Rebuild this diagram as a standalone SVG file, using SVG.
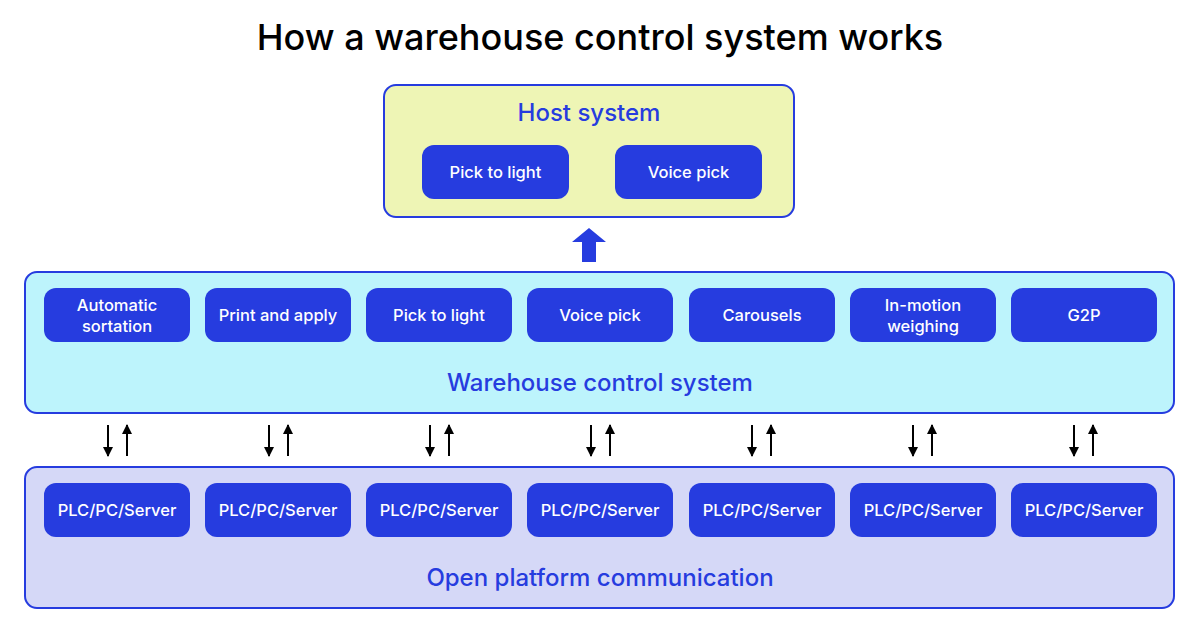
<svg xmlns="http://www.w3.org/2000/svg" width="1200" height="630" viewBox="0 0 1200 630">
<style>
text{font-family:Inter,"Liberation Sans",sans-serif;text-anchor:middle;font-weight:500}
.n{fill:#263cdf}
.nt{fill:#fff;font-size:16.5px}
.lbl{fill:#263cdf;font-size:24px}
.c{stroke:#000;stroke-width:2}
</style>
<defs>
<marker id="ah" viewBox="0 0 10 10" refX="9" refY="5" markerWidth="10" markerHeight="10" markerUnits="userSpaceOnUse" orient="auto"><path d="M0,0L10,5L0,10z" fill="#000"/></marker>
</defs>
<rect width="1200" height="630" fill="#fff"/>
<text x="600" y="50" font-size="36" fill="#000">How a warehouse control system works</text>
<g id="host">
<rect x="384" y="85" width="410" height="132" rx="12" fill="#eef5b5" stroke="#263cdf" stroke-width="2"/>
<text class="lbl" x="589" y="121">Host system</text>
</g>
<g id="host-ptl"><rect class="n" x="422" y="145" width="147" height="54" rx="12"/><text class="nt" x="495.5" y="178">Pick to light</text></g>
<g id="host-vp"><rect class="n" x="615" y="145" width="147" height="54" rx="12"/><text class="nt" x="688.5" y="178">Voice pick</text></g>
<g id="wcs">
<rect x="25" y="272" width="1149" height="141" rx="12" fill="#bdf4fc" stroke="#263cdf" stroke-width="2"/>
<text class="lbl" x="600" y="391">Warehouse control system</text>
</g>
<g id="w1"><rect class="n" x="44" y="288" width="146" height="54" rx="12"/><text class="nt" x="117" y="311">Automatic</text><text class="nt" x="117" y="332">sortation</text></g>
<g id="w2"><rect class="n" x="205" y="288" width="146" height="54" rx="12"/><text class="nt" x="278" y="321">Print and apply</text></g>
<g id="w3"><rect class="n" x="366" y="288" width="146" height="54" rx="12"/><text class="nt" x="439" y="321">Pick to light</text></g>
<g id="w4"><rect class="n" x="527" y="288" width="146" height="54" rx="12"/><text class="nt" x="600" y="321">Voice pick</text></g>
<g id="w5"><rect class="n" x="689" y="288" width="146" height="54" rx="12"/><text class="nt" x="762" y="321">Carousels</text></g>
<g id="w6"><rect class="n" x="850" y="288" width="146" height="54" rx="12"/><text class="nt" x="923" y="311">In-motion</text><text class="nt" x="923" y="332">weighing</text></g>
<g id="w7"><rect class="n" x="1011" y="288" width="146" height="54" rx="12"/><text class="nt" x="1084" y="321">G2P</text></g>
<g id="opc">
<rect x="25" y="467" width="1149" height="141" rx="12" fill="#d5d8f7" stroke="#263cdf" stroke-width="2"/>
<text class="lbl" x="600" y="586">Open platform communication</text>
</g>
<g id="p1"><rect class="n" x="44" y="483" width="146" height="54" rx="12"/><text class="nt" x="117" y="516">PLC/PC/Server</text></g>
<g id="p2"><rect class="n" x="205" y="483" width="146" height="54" rx="12"/><text class="nt" x="278" y="516">PLC/PC/Server</text></g>
<g id="p3"><rect class="n" x="366" y="483" width="146" height="54" rx="12"/><text class="nt" x="439" y="516">PLC/PC/Server</text></g>
<g id="p4"><rect class="n" x="527" y="483" width="146" height="54" rx="12"/><text class="nt" x="600" y="516">PLC/PC/Server</text></g>
<g id="p5"><rect class="n" x="689" y="483" width="146" height="54" rx="12"/><text class="nt" x="762" y="516">PLC/PC/Server</text></g>
<g id="p6"><rect class="n" x="850" y="483" width="146" height="54" rx="12"/><text class="nt" x="923" y="516">PLC/PC/Server</text></g>
<g id="p7"><rect class="n" x="1011" y="483" width="146" height="54" rx="12"/><text class="nt" x="1084" y="516">PLC/PC/Server</text></g>
<g id="connectors">
<path d="M582,262V242H572L589,228L606,242H596V262Z" fill="#263cdf"/>
<g class="c" marker-end="url(#ah)">
<line x1="108" y1="425" x2="108" y2="456"/><line x1="127" y1="456" x2="127" y2="425"/>
<line x1="269" y1="425" x2="269" y2="456"/><line x1="288" y1="456" x2="288" y2="425"/>
<line x1="430" y1="425" x2="430" y2="456"/><line x1="449" y1="456" x2="449" y2="425"/>
<line x1="591" y1="425" x2="591" y2="456"/><line x1="610" y1="456" x2="610" y2="425"/>
<line x1="752" y1="425" x2="752" y2="456"/><line x1="771" y1="456" x2="771" y2="425"/>
<line x1="913" y1="425" x2="913" y2="456"/><line x1="932" y1="456" x2="932" y2="425"/>
<line x1="1074" y1="425" x2="1074" y2="456"/><line x1="1093" y1="456" x2="1093" y2="425"/>
</g>
</g>
</svg>
